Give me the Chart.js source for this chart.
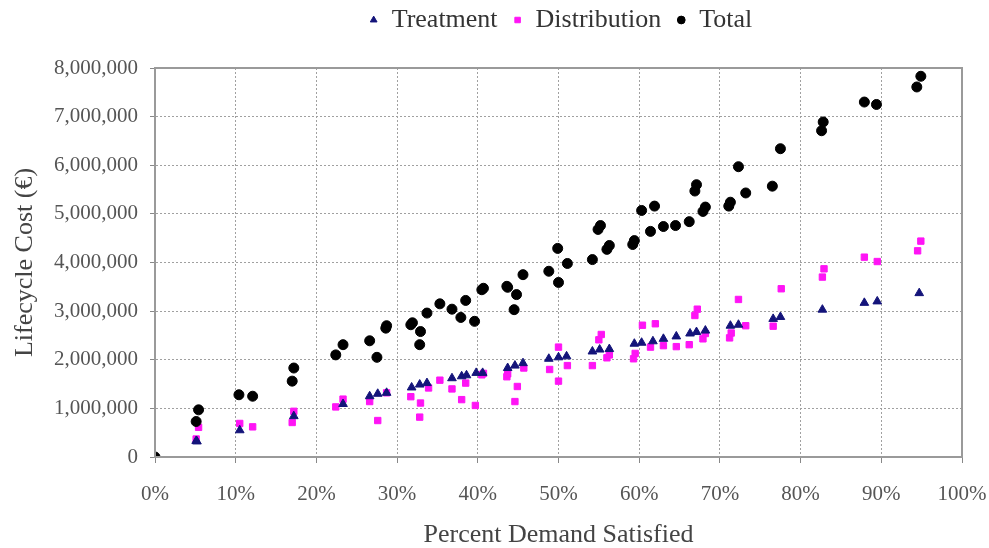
<!DOCTYPE html>
<html>
<head>
<meta charset="utf-8">
<script src="https://cdn.jsdelivr.net/npm/chart.js@4.4.1/dist/chart.umd.min.js"></script>
<style>
html,body{margin:0;padding:0;background:#fff;}
#wrap{width:989px;height:548px;}
</style>
</head>
<body>
<div id="wrap"><canvas id="c" width="989" height="548"></canvas></div>
<script>
// Percent demand satisfied (x) and lifecycle cost (y) per series
const treatmentX = [0,5.1,5.2,10.5,17.2,23.3,26.6,27.6,28.7,31.8,32.8,33.7,36.8,38.0,38.6,39.8,40.6,43.7,44.6,45.6,48.8,50.0,51.0,54.2,55.1,56.3,59.4,60.3,61.7,63.0,64.6,66.3,67.1,68.2,71.3,72.3,76.6,77.5,82.7,87.9,89.5,94.7];
const treatmentY = [0,330000,320000,550000,840000,1090000,1250000,1300000,1320000,1430000,1490000,1520000,1620000,1660000,1680000,1730000,1730000,1830000,1880000,1930000,2020000,2050000,2070000,2170000,2210000,2220000,2330000,2350000,2380000,2430000,2480000,2540000,2570000,2600000,2700000,2720000,2840000,2880000,3030000,3170000,3200000,3370000];

const distributionX = [0,5.1,5.4,10.5,12.1,17.0,17.2,22.4,23.3,26.6,27.6,28.7,31.7,32.9,32.8,33.9,35.3,36.8,38.0,38.5,39.7,40.5,40.7,43.6,43.7,44.9,44.6,45.7,48.9,50.0,50.0,51.1,54.2,55.0,55.3,56.0,56.3,59.3,59.5,60.4,62.0,61.4,63.0,64.6,66.2,66.9,67.2,67.9,68.2,71.2,71.4,72.3,73.2,76.6,77.6,82.7,82.9,87.9,89.5,94.5,94.9];
const distributionY = [0,370000,610000,690000,620000,710000,940000,1030000,1190000,1140000,750000,1320000,1240000,1110000,820000,1420000,1580000,1400000,1180000,1520000,1060000,1690000,1720000,1650000,1710000,1450000,1140000,1830000,1800000,1560000,2260000,1880000,1880000,2410000,2520000,2040000,2100000,2020000,2130000,2710000,2740000,2260000,2290000,2270000,2310000,2910000,3040000,2430000,2540000,2450000,2550000,3240000,2700000,2690000,3460000,3700000,3870000,4110000,4020000,4240000,4440000];

const totalX = [0,5.1,5.4,10.4,12.1,17.0,17.2,22.4,23.3,26.6,27.5,28.6,28.7,31.7,31.9,32.9,32.8,33.7,35.3,36.8,37.9,38.5,39.6,40.5,40.7,43.6,43.7,44.8,44.5,45.6,48.8,50.0,49.9,51.1,54.2,54.9,55.2,56.0,56.3,59.2,59.4,60.3,61.9,61.4,63.0,64.5,66.2,66.9,67.1,67.9,68.2,71.1,71.3,72.3,73.2,76.5,77.5,82.6,82.8,87.9,89.4,94.4,94.9];
const totalY = [0,730000,970000,1280000,1250000,1560000,1830000,2100000,2310000,2390000,2050000,2650000,2700000,2720000,2760000,2580000,2310000,2960000,3150000,3040000,2870000,3220000,2790000,3440000,3470000,3510000,3490000,3340000,3030000,3750000,3820000,3590000,4290000,3980000,4060000,4680000,4760000,4270000,4350000,4370000,4450000,5070000,5160000,4640000,4740000,4760000,4840000,5470000,5600000,5050000,5140000,5160000,5240000,5970000,5430000,5570000,6340000,6710000,6890000,7300000,7250000,7610000,7830000];

const xTicks = [0,10,20,30,40,50,60,70,80,90,100];
const yTicks = [0,1000000,2000000,3000000,4000000,5000000,6000000,7000000,8000000];

function pts(xs, ys){ return xs.map((x,i)=>({x:x, y:ys[i]})); }

const frame = {
  id:'frame',
  beforeInit(chart){
    const lg = chart.legend;
    if (lg) {
      const orig = lg.fit;
      lg.fit = function(){ orig.call(this); this.height = 68; };
    }
  },
  afterLayout(chart){
    const lg = chart.legend, a = chart.chartArea;
    if (lg) {
      const shift = (a.left + a.right)/2 - (lg.left + lg.right)/2 + 2;
      lg.left += shift; lg.right += shift;
      lg.top -= 8; lg.bottom -= 8;
    }
  },
  afterDraw(chart){
    const a = chart.chartArea, ctx = chart.ctx;
    ctx.save();
    ctx.strokeStyle = '#9a9a9a';
    ctx.lineWidth = 2;
    ctx.strokeRect(a.left, a.top, a.right - a.left, a.bottom - a.top);
    ctx.restore();
  }
};

const serif = "'Liberation Serif', 'Times New Roman', serif";

new Chart(document.getElementById('c'), {
  type: 'scatter',
  data: {
    datasets: [
      {label:'Treatment', data: pts(treatmentX, treatmentY), pointStyle:'triangle', pointRadius:5, backgroundColor:'#14147a', borderColor:'#14147a', borderWidth:1, order:1},
      {label:'Distribution', data: pts(distributionX, distributionY), pointStyle:'rect', pointRadius:4.5, backgroundColor:'#ff14f5', borderColor:'#ff14f5', borderWidth:1, order:2},
      {label:'Total', data: pts(totalX, totalY), pointStyle:'circle', pointRadius:5, backgroundColor:'#000', borderColor:'#000', borderWidth:1, order:0}
    ]
  },
  options: {
    responsive:false,
    animation:false,
    layout:{padding:{left:0,right:27,top:0,bottom:0}},
    plugins:{
      legend:{
        position:'top',
        labels:{
          usePointStyle:true,
          boxWidth:10, boxHeight:5.5,
          color:'#333',
          font:{family:serif, size:26},
          padding:15,
          sort:(a,b)=>a.datasetIndex-b.datasetIndex
        }
      },
      tooltip:{enabled:false}
    },
    scales:{
      x:{
        type:'linear', min:0, max:100,
        afterBuildTicks(s){ s.ticks = xTicks.map(v=>({value:v})); },
        afterFit(s){ s.height = 548 - 457; s.paddingRight = 0; s.paddingLeft = 0; },
        ticks:{ callback:v=>v+'%', color:'#555', font:{family:serif, size:21}, padding:19, maxRotation:0 },
        grid:{ color:'#a0a0a0', lineWidth:1, tickLength:6, tickColor:'#888' },
        border:{ display:true, color:'#9a9a9a', width:2, dash:[2,2] },
        title:{ display:true, text:'Percent Demand Satisfied', color:'#444', font:{family:serif, size:26, lineHeight:1}, padding:{top:0,bottom:0} }
      },
      y:{
        type:'linear', min:0, max:8000000,
        afterBuildTicks(s){ s.ticks = yTicks.map(v=>({value:v})); },
        afterFit(s){ s.width = 155; },
        ticks:{ callback:v=>v.toLocaleString('en-US'), color:'#555', font:{family:serif, size:21}, padding:12 },
        grid:{ color:'#a0a0a0', lineWidth:1, tickLength:5, tickColor:'#888' },
        border:{ display:true, color:'#9a9a9a', width:2, dash:[2,2] },
        title:{ display:true, text:'Lifecycle Cost (€)', color:'#444', font:{family:serif, size:26, lineHeight:1}, padding:{top:12,bottom:0} }
      }
    }
  },
  plugins:[frame]
});
</script>
</body>
</html>
